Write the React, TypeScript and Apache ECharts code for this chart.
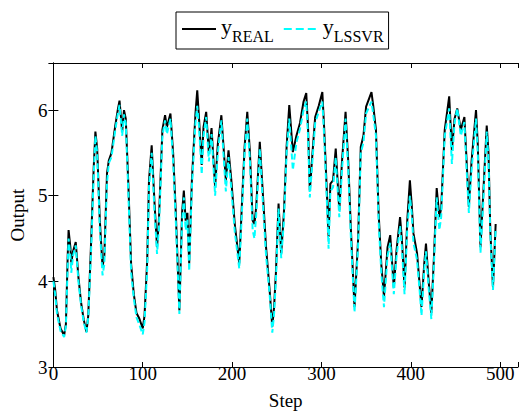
import React, { useEffect, useRef } from "react";
import * as echarts from "echarts";

const steps = [
  0, 2, 4, 8, 12, 14, 16, 17, 19, 20, 22, 25, 28, 31, 34, 37, 39, 42, 45, 47,
  49, 52, 55, 57, 60, 62, 65, 69, 72, 74, 77, 79, 81, 84, 87, 90, 93, 96, 100, 102,
  105, 107, 110, 113, 116, 118, 122, 125, 127, 131, 134, 137, 141, 144, 146, 148, 150, 152, 155, 159,
  161, 163, 166, 168, 171, 174, 177, 181, 184, 188, 193, 196, 199, 203, 208, 211, 214, 217, 220, 223,
  225, 227, 231, 234, 238, 242, 245, 247, 249, 252, 255, 258, 261, 264, 268, 272, 276, 280, 283, 285,
  287, 290, 293, 297, 301, 303, 306, 308, 310, 313, 316, 320, 323, 327, 330, 333, 337, 341, 344, 347,
  350, 356, 358, 361, 364, 367, 370, 374, 377, 381, 384, 388, 390, 393, 396, 399, 401, 403, 407, 410,
  412, 415, 417, 420, 423, 426, 429, 432, 434, 438, 443, 446, 449, 452, 456, 460, 462, 465, 468, 473,
  475, 478, 481, 485, 487, 489, 492, 495,
];

const yReal = [
  4.05, 3.9, 3.66, 3.45, 3.37, 3.5, 4.3, 4.6, 4.4, 4.22, 4.35, 4.46, 4.05, 3.75, 3.55, 3.41, 3.6, 4.4, 5.3, 5.75,
  5.55, 4.7, 4.17, 4.3, 5.26, 5.41, 5.5, 5.8, 6.0, 6.11, 5.75, 6.0, 5.9, 5.1, 4.2, 3.85, 3.63, 3.57, 3.45, 3.6,
  4.25, 5.18, 5.59, 4.95, 4.4, 4.7, 5.77, 5.94, 5.8, 5.96, 5.5, 4.8, 3.66, 4.8, 5.06, 4.71, 4.8, 4.21, 5.18, 5.96,
  6.23, 5.9, 5.36, 5.8, 5.98, 5.5, 5.79, 5.1, 5.6, 5.94, 5.18, 5.53, 5.2, 4.67, 4.21, 4.9, 5.57, 5.98, 5.5, 4.71,
  4.67, 4.87, 5.63, 5.1, 4.4, 3.9, 3.47, 3.7, 4.09, 4.91, 4.33, 4.8, 5.57, 6.06, 5.51, 5.7, 5.85, 6.1, 6.2, 5.8,
  5.06, 5.5, 5.92, 6.05, 6.21, 5.8, 5.06, 4.52, 5.14, 5.18, 5.55, 4.83, 5.4, 5.98, 5.4, 4.6, 3.7, 4.48, 5.57, 5.7,
  6.04, 6.21, 6.05, 5.77, 4.8, 4.2, 3.82, 4.4, 4.54, 3.93, 4.36, 4.75, 4.5, 3.93, 4.7, 5.18, 4.9, 4.56, 4.33, 3.95,
  3.7, 4.2, 4.44, 4.0, 3.63, 4.3, 5.09, 4.75, 4.85, 5.77, 6.16, 5.53, 5.9, 6.02, 5.77, 5.92, 5.5, 4.87, 5.4, 6.0,
  5.6, 4.4, 5.0, 5.82, 5.5, 4.6, 3.93, 4.67,
];

const yLssvr = [
  4.0, 3.85, 3.62, 3.42, 3.35, 3.48, 4.2, 4.5, 4.3, 4.1, 4.3, 4.42, 4.0, 3.72, 3.52, 3.4, 3.58, 4.3, 5.2, 5.7,
  5.5, 4.6, 4.07, 4.2, 5.15, 5.38, 5.45, 5.75, 5.95, 6.06, 5.7, 5.95, 5.85, 5.0, 4.1, 3.8, 3.58, 3.5, 3.38, 3.52,
  4.15, 5.1, 5.5, 4.85, 4.32, 4.6, 5.7, 5.88, 5.72, 5.9, 5.4, 4.7, 3.62, 4.7, 4.98, 4.6, 4.72, 4.12, 5.1, 5.85,
  6.05, 5.8, 5.25, 5.7, 5.92, 5.4, 5.72, 5.0, 5.5, 5.88, 5.05, 5.45, 5.1, 4.58, 4.15, 4.8, 5.5, 5.9, 5.4, 4.6,
  4.5, 4.78, 5.55, 5.0, 4.3, 3.85, 3.4, 3.62, 4.0, 4.85, 4.27, 4.7, 5.5, 5.9, 5.3, 5.62, 5.78, 6.0, 6.1, 5.7,
  4.98, 5.42, 5.85, 5.98, 6.1, 5.7, 4.95, 4.38, 5.05, 5.1, 5.45, 4.75, 5.3, 5.9, 5.3, 4.5, 3.64, 4.4, 5.5, 5.62,
  5.96, 6.1, 5.95, 5.7, 4.7, 4.1, 3.7, 4.3, 4.45, 3.85, 4.28, 4.65, 4.4, 3.85, 4.6, 5.0, 4.8, 4.45, 4.25, 3.88,
  3.6, 4.12, 4.35, 3.92, 3.56, 4.22, 4.98, 4.6, 4.75, 5.7, 6.02, 5.37, 5.85, 6.02, 5.7, 5.86, 5.4, 4.8, 5.3, 5.9,
  5.5, 4.33, 4.9, 5.75, 5.42, 4.55, 3.9, 4.62,
];

const xTicks = [0, 100, 200, 300, 400, 500];
const yTicks = [3, 4, 5, 6];

const FONT = "'Liberation Serif', 'DejaVu Serif', serif";

export default function App() {
  const ref = useRef<HTMLDivElement>(null);

  useEffect(() => {
    if (!ref.current) return;
    const chart = echarts.init(ref.current, null, { renderer: "svg" });
    const realData = steps.map((s, i) => [s, yReal[i]]);
    const lssvrData = steps.map((s, i) => [s, yLssvr[i]]);

    const xFmt = (v: number) => (xTicks.includes(v) ? String(v) : "");
    const yFmt = (v: number) => (yTicks.includes(v) ? String(v) : "");

    chart.setOption({
      animation: false,
      backgroundColor: "#fff",
      grid: { left: 49, right: 4, top: 63, bottom: 49 },
      legend: {
        left: 176,
        top: 12,
        orient: "horizontal",
        borderColor: "#000",
        borderWidth: 1,
        padding: [3, 5, 5, 6],
        itemWidth: 34,
        itemHeight: 2,
        itemGap: 10,
        data: [
          { name: "yREAL", icon: "path://M0 0h34v2h-34z" },
          { name: "yLSSVR", icon: "path://M0 0h8v2h-8zM12 0h8v2h-8zM24 0h8v2h-8zM34 0h0v2h0z" },
        ],
        formatter: (name: string) =>
          name === "yREAL" ? "{y|y}{s|REAL}" : "{y|y}{s|LSSVR}",
        textStyle: {
          fontFamily: FONT,
          color: "#000",
          rich: {
            y: { fontSize: 22, fontFamily: FONT, color: "#000", padding: [0, 0, 6, 0] },
            s: { fontSize: 16, fontFamily: FONT, color: "#000", padding: [14, 0, 0, 0] },
          },
        },
      },
      xAxis: [
        {
          type: "value",
          min: 0,
          max: 520,
          interval: 100,
          name: "Step",
          nameLocation: "middle",
          nameGap: 24,
          nameTextStyle: { fontFamily: FONT, fontSize: 19, color: "#000" },
          axisLine: { show: true, lineStyle: { color: "#000", width: 1 } },
          axisTick: { show: true, inside: true, length: 5, lineStyle: { color: "#000" } },
          axisLabel: { formatter: xFmt, fontFamily: FONT, fontSize: 19, color: "#000", margin: -3 },
          splitLine: { show: false },
        },
        {
          type: "value",
          position: "top",
          min: 0,
          max: 520,
          interval: 100,
          axisLine: { show: true, lineStyle: { color: "#000", width: 1 } },
          axisTick: { show: true, inside: true, length: 5, lineStyle: { color: "#000" } },
          axisLabel: { show: false },
          splitLine: { show: false },
        },
      ],
      yAxis: [
        {
          type: "value",
          min: 3,
          max: 6.55,
          interval: 1,
          name: "Output",
          nameLocation: "middle",
          nameGap: 16,
          nameRotate: 90,
          nameTextStyle: { fontFamily: FONT, fontSize: 19, color: "#000" },
          axisLine: { show: true, lineStyle: { color: "#000", width: 1 } },
          axisTick: { show: true, inside: true, length: 5, lineStyle: { color: "#000" } },
          axisLabel: { formatter: yFmt, fontFamily: FONT, fontSize: 19, color: "#000", margin: 6 },
          splitLine: { show: false },
        },
        {
          type: "value",
          position: "right",
          min: 3,
          max: 6.55,
          interval: 1,
          axisLine: { show: true, lineStyle: { color: "#000", width: 1 } },
          axisTick: { show: true, inside: true, length: 5, lineStyle: { color: "#000" } },
          axisLabel: { show: false },
          splitLine: { show: false },
        },
      ],
      series: [
        {
          name: "yREAL",
          type: "line",
          data: realData,
          symbol: "none",
          lineStyle: { color: "#000", width: 2 },
          itemStyle: { color: "#000" },
        },
        {
          name: "yLSSVR",
          type: "line",
          data: lssvrData,
          symbol: "none",
          lineStyle: { color: "#00ffff", width: 2, type: [6, 3] },
          itemStyle: { color: "#00ffff" },
        },
      ],
    });
    return () => chart.dispose();
  }, []);

  return <div ref={ref} style={{ width: 522, height: 416, position: "absolute", left: 0, top: 0 }} />;
}
